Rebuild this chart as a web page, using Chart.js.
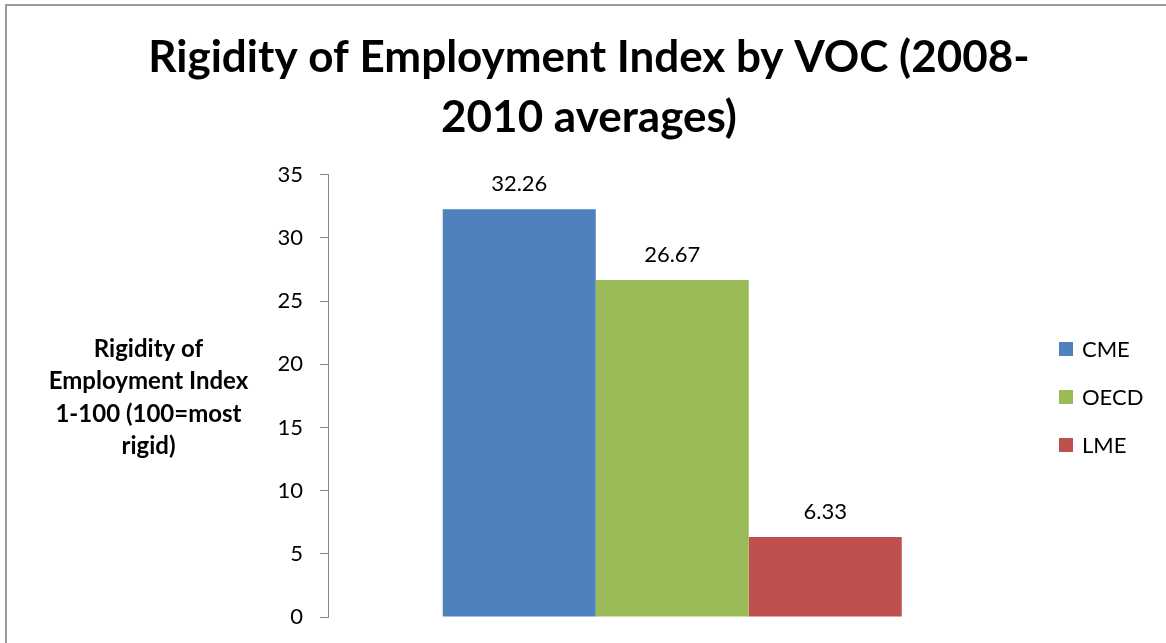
<!DOCTYPE html>
<html>
<head>
<meta charset="utf-8">
<script src="https://cdn.jsdelivr.net/npm/chart.js@4.4.0/dist/chart.umd.min.js"></script>
<style>
    html, body { margin: 0; padding: 0; background: #fff; overflow: hidden; width: 1166px; height: 643px; }
    #frame { position: absolute; left: 5px; top: 4px; width: 2000px; height: 2000px; border-left: 2px solid #9a9a9a; border-top: 2px solid #9a9a9a; }
    #wrap { position: absolute; left: 6px; top: 5px; width: 1166px; height: 643px; }
</style>
</head>
<body>
<div id="frame"></div>
<div id="wrap"><canvas id="grafico"></canvas></div>
<script>
const tituloGrafico = ["Rigidity of Employment Index by VOC (2008-", "2010 averages)"];
const tituloEixoY = ["Rigidity of", "Employment Index", "1-100 (100=most", "rigid)"];
const categorias = [""];
const series = ["CME", "OECD", "LME"];
const valores = [32.26, 26.67, 6.33];
const cores = ["#4F81BD", "#9BBB59", "#C0504D"];
const ticksY = [0, 5, 10, 15, 20, 25, 30, 35];

const fonte = "Lato, 'Open Sans', sans-serif";

// monta os datasets a partir das listas
let datasets = [];
for (let i = 0; i < series.length; i++) {
    datasets.push({
        label: series[i],
        data: [valores[i]],
        backgroundColor: cores[i],
        borderWidth: 0,
        categoryPercentage: 0.6667,
        barPercentage: 1.0
    });
}

// rótulos de valor em cima das barras
const rotulosBarras = {
    id: "rotulosBarras",
    afterDatasetsDraw(chart) {
        const ctx = chart.ctx;
        ctx.save();
        ctx.font = "22px " + fonte;
        ctx.fillStyle = "#000";
        ctx.textAlign = "center";
        ctx.textBaseline = "alphabetic";
        chart.data.datasets.forEach((ds, i) => {
            const barra = chart.getDatasetMeta(i).data[0];
            ctx.fillText(ds.data[0].toFixed(2), barra.x, barra.y - 18);
        });
        ctx.restore();
    }
};

// título do eixo Y na horizontal, como no Excel
const tituloY = {
    id: "tituloY",
    afterDraw(chart) {
        const ctx = chart.ctx;
        ctx.save();
        ctx.font = "bold 24px " + fonte;
        ctx.fillStyle = "#000";
        ctx.textAlign = "center";
        ctx.textBaseline = "alphabetic";
        for (let i = 0; i < tituloEixoY.length; i++) {
            ctx.fillText(tituloEixoY[i], 142.5, 352 + i * 32.3);
        }
        ctx.restore();
    }
};

// legenda desenhada à direita
const legenda = {
    id: "legenda",
    afterDraw(chart) {
        const ctx = chart.ctx;
        ctx.save();
        ctx.font = "22px " + fonte;
        ctx.textBaseline = "middle";
        ctx.textAlign = "left";
        chart.data.datasets.forEach((ds, i) => {
            const y = 344 + i * 48;
            ctx.fillStyle = ds.backgroundColor;
            ctx.fillRect(1053, y - 7, 14, 14);
            ctx.fillStyle = "#000";
            ctx.fillText(ds.label, 1076, y + 1);
        });
        ctx.restore();
    }
};

const config = {
    type: "bar",
    data: { labels: categorias, datasets: datasets },
    options: {
        responsive: true,
        maintainAspectRatio: false,
        animation: false,
        layout: { padding: { left: 0, top: 0, right: 0, bottom: 31 } },
        plugins: {
            legend: { display: false },
            tooltip: { enabled: false },
            title: {
                display: true,
                text: tituloGrafico,
                color: "#000",
                font: { family: fonte, size: 44, weight: "bold", lineHeight: 1.36 },
                padding: { top: 23, bottom: 27 }
            }
        },
        scales: {
            x: { display: false },
            y: {
                min: 0,
                max: 35,
                afterFit: (s) => { s.width = 322; },
                afterBuildTicks: (s) => { s.ticks = ticksY.map(v => ({ value: v })); },
                grid: { drawOnChartArea: false, drawTicks: true, tickLength: 8, color: "#868686" },
                border: { display: true, color: "#868686", width: 1 },
                ticks: { color: "#000", padding: 17, font: { family: fonte, size: 22 } }
            },
            // eixo vazio à direita, só para reservar o espaço da legenda
            espaco: {
                axis: "y",
                position: "right",
                afterFit: (s) => { s.width = 155.5; },
                grid: { display: false },
                border: { display: false },
                ticks: { display: false }
            }
        }
    },
    plugins: [rotulosBarras, tituloY, legenda]
};

let myChart = new Chart(document.getElementById("grafico"), config);
</script>
</body>
</html>
